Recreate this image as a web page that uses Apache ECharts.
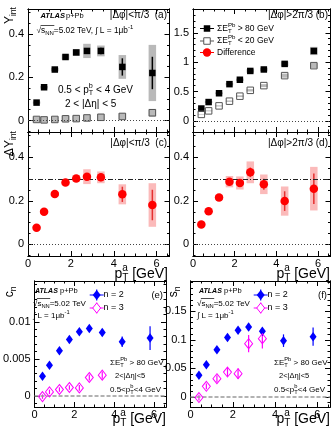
<!DOCTYPE html>
<html>
<head>
<meta charset="utf-8">
<script src="https://cdn.jsdelivr.net/npm/echarts@6/dist/echarts.min.js"></script>
<style>
  html, body { margin: 0; padding: 0; background: #fff; }
  #wrap { position: relative; width: 331px; height: 429px; }
  #chart, #notes { position: absolute; left: 0; top: 0; width: 331px; height: 429px; }
  #notes { pointer-events: none; }
</style>
</head>
<body>
<div id="wrap">
  <div id="chart"></div>
  <div id="notes"></div>
</div>
<script>
// associated pT bin centres [GeV]
const ptA = [0.4, 0.75, 1.25, 1.75, 2.25, 2.75, 3.4, 4.4, 5.8]
const xMajor = [0, 2, 4, 6]
const xMinor = [0.5, 1, 1.5, 2.5, 3, 3.5, 4.5, 5, 5.5, 6.5]

// (a) near side, |dphi| < pi/3
const nearHigh = [0.083, 0.154, 0.236, 0.294, 0.315, 0.322, 0.322, 0.248, 0.220]
const nearHighStat = [0.002, 0.003, 0.004, 0.006, 0.008, 0.012, 0.015, 0.040, 0.075]
const nearHighSys = [0.005, 0.006, 0.008, 0.012, 0.015, 0.033, 0.025, 0.055, 0.130]
const nearLow = [0.005, 0.003, 0.005, 0.008, 0.009, 0.012, 0.015, 0.019, 0.036]
const nearLowSys = [0.014, 0.014, 0.014, 0.015, 0.015, 0.015, 0.016, 0.016, 0.018]

// (b) away side, |dphi| > 2pi/3
const awayHigh = [0.21, 0.32, 0.47, 0.625, 0.70, 0.85, 0.875, 0.97, 1.19]
const awayHighSys = [0.01, 0.015, 0.015, 0.02, 0.02, 0.03, 0.03, 0.04, 0.07]
const awayLow = [0.11, 0.17, 0.255, 0.335, 0.42, 0.52, 0.60, 0.77, 0.94]
const awayLowSys = [0.005, 0.008, 0.01, 0.012, 0.015, 0.02, 0.025, 0.035, 0.045]

// (c) difference, near side
const diffNear = [0.077, 0.150, 0.231, 0.284, 0.303, 0.311, 0.308, 0.230, 0.181]
const diffNearStat = [0.003, 0.004, 0.005, 0.007, 0.009, 0.015, 0.018, 0.035, 0.070]
const diffNearSys = [0.006, 0.008, 0.010, 0.012, 0.015, 0.034, 0.027, 0.046, 0.100]

// (d) difference, away side
const diffAway = [0.092, 0.152, 0.215, 0.288, 0.282, 0.331, 0.276, 0.199, 0.256]
const diffAwayStat = [0.004, 0.005, 0.007, 0.012, 0.014, 0.022, 0.025, 0.045, 0.070]
const diffAwaySys = [0.008, 0.010, 0.012, 0.026, 0.030, 0.050, 0.045, 0.067, 0.100]

// (e) c_n
const c2 = [0.00266, 0.00414, 0.0061, 0.0076, 0.00865, 0.0091, 0.00856, 0.0073, 0.0078]
const c2Err = [0.0002, 0.0002, 0.0003, 0.0003, 0.0003, 0.0003, 0.0004, 0.0007, 0.0016]
const c3 = [-0.0001, 0.00054, 0.00086, 0.00113, 0.00108, 0.00248, 0.0028]
const c3Err = [0.0003, 0.0003, 0.0003, 0.0003, 0.0004, 0.0004, 0.0005]

// (f) s_n
const s2 = [0.038, 0.0566, 0.0828, 0.104, 0.117, 0.1225, 0.115, 0.0986, 0.1056]
const s2Err = [0.003, 0.003, 0.004, 0.004, 0.005, 0.005, 0.006, 0.011, 0.016]
const s3 = [-0.001, 0.0187, 0.032, 0.0437, 0.0408, 0.0933, 0.102]
const s3Err = [0.005, 0.005, 0.006, 0.007, 0.009, 0.015, 0.017]

const FONT = '"Liberation Sans", Arial, sans-serif'
const ctx = document.createElement('canvas').getContext('2d')
const fnt = (size, st) => (st || '') + ' ' + size + 'px ' + FONT
const tw = (s, f) => { ctx.font = f; return ctx.measureText(s).width }

// little markup: _{..} subscript, ^{..} superscript (stacked when adjacent)
function label(x, y, src, size, o) {
  o = o || {}
  const st = o.style || '', col = o.color || '#000', sm = size * 0.72
  const els = []
  const put = (px, py, t, f) => els.push({ type: 'text', x: px, y: py, style: { text: t, font: f, fill: col, textVerticalAlign: 'middle' } })
  const isMark = (k) => (src[k] === '_' || src[k] === '^') && src[k + 1] === '{'
  let cx = 0, i = 0
  while (i < src.length) {
    if (isMark(i)) {
      let w = 0
      while (isMark(i)) {
        const j = src.indexOf('}', i)
        const t = src.slice(i + 2, j)
        put(cx, src[i] === '_' ? size * 0.33 : -size * 0.4, t, fnt(sm, st))
        w = Math.max(w, tw(t, fnt(sm, st)))
        i = j + 1
      }
      cx += w
    } else {
      let j = i
      while (j < src.length && !isMark(j)) j++
      const t = src.slice(i, j)
      put(cx, 0, t, fnt(size, st))
      cx += tw(t, fnt(size, st))
      i = j
    }
  }
  const dx = o.align === 'right' ? -cx : 0
  if (o.rotation) {
    els.forEach(e => { e.x += dx })
    return [{ type: 'group', x: x, y: y, rotation: o.rotation, children: els }]
  }
  els.forEach(e => { e.x += x + dx; e.y += y })
  return els
}

// sqrt(s_NN) bar
function sqrtBar(x, y, size) {
  const x0 = x + tw('\u221A', fnt(size))
  const x1 = x0 + tw('s', fnt(size)) + tw('NN', fnt(size * 0.72)) + 0.5
  return [{ type: 'rect', shape: { x: x0 - 0.5, y: y - size * 0.62 - 0.35, width: x1 - x0 + 0.5, height: 0.7 }, style: { fill: '#000' } }]
}

const grids = [
  { left: 28, top: 9, width: 141.5, height: 123 },
  { left: 193, top: 9, width: 137.5, height: 123 },
  { left: 28, top: 132, width: 141.5, height: 124 },
  { left: 193, top: 132, width: 137.5, height: 124 },
  { left: 26.5, top: 281, width: 139.5, height: 126 },
  { left: 190.5, top: 281, width: 139.5, height: 126 }
]

const fmt = v => String(Math.round(v * 10000) / 10000)
function ax(g, pos, min, max, vals, len, labels, dim) {
  return {
    type: 'value', gridIndex: g, position: pos, min: min, max: max,
    axisLine: { show: true, onZero: false, lineStyle: { color: '#000', width: 1 } },
    axisTick: { show: true, inside: true, length: len, customValues: vals, lineStyle: { color: '#000', width: 1 } },
    axisLabel: labels
      ? { show: true, customValues: vals, formatter: fmt, showMinLabel: true, showMaxLabel: true, hideOverlap: false, color: '#000', fontSize: 11, fontFamily: FONT, margin: dim === 'x' ? 2 : 4 }
      : { show: false },
    splitLine: { show: false }
  }
}
function range(a, b, step, skip) {
  const out = []
  for (let v = a; v <= b + 1e-9; v += step) {
    const r = Math.round(v * 1e6) / 1e6
    if (!skip.some(s => Math.abs(s - r) < 1e-9)) out.push(r)
  }
  return out
}

// 4 x axes and 4 y axes per grid; the first of each carries the data and labels
const xAxes = [], yAxes = []
function frame(g, yMin, yMax, yMaj, yStep) {
  const yMin2 = range(Math.ceil(yMin / yStep) * yStep, yMax, yStep, yMaj)
  xAxes.push(ax(g, 'bottom', 0, 6.6, xMajor, 5, g >= 2, 'x'))
  xAxes.push(ax(g, 'bottom', 0, 6.6, xMinor, 2.5, false, 'x'))
  xAxes.push(ax(g, 'top', 0, 6.6, xMajor, 5, false, 'x'))
  xAxes.push(ax(g, 'top', 0, 6.6, xMinor, 2.5, false, 'x'))
  yAxes.push(ax(g, 'left', yMin, yMax, yMaj, 5, true, 'y'))
  yAxes.push(ax(g, 'left', yMin, yMax, yMin2, 2.5, false, 'y'))
  yAxes.push(ax(g, 'right', yMin, yMax, yMaj, 5, false, 'y'))
  yAxes.push(ax(g, 'right', yMin, yMax, yMin2, 2.5, false, 'y'))
}
frame(0, -0.053, 0.516, [0, 0.2, 0.4], 0.05)
frame(1, -0.19, 1.905, [0, 0.5, 1, 1.5], 0.1)
frame(2, -0.053, 0.516, [0, 0.2, 0.4], 0.05)
frame(3, -0.053, 0.516, [0, 0.2, 0.4], 0.05)
frame(4, -0.0015, 0.0155, [0, 0.005, 0.01], 0.001)
frame(5, -0.0175, 0.203, [0, 0.05, 0.1, 0.15], 0.01)

const zip = (ys, es) => ys.map((y, i) => es ? [ptA[i], y, es[i]] : [ptA[i], y])

function points(g, ys, sym, size, fill, border, marks) {
  const s = {
    type: 'scatter', xAxisIndex: g * 4, yAxisIndex: g * 4, data: zip(ys), z: 5, silent: true,
    symbol: sym, symbolSize: size,
    itemStyle: { color: fill, borderColor: border || fill, borderWidth: border ? 1 : 0, opacity: 1 }
  }
  if (marks) {
    s.markLine = { silent: true, symbol: 'none', label: { show: false }, animation: false, data: marks }
  }
  return s
}
// vertical band centred on each point: stat bars (thin) and sys boxes (wide)
function band(g, ys, es, color, w, z) {
  return {
    type: 'custom', xAxisIndex: g * 4, yAxisIndex: g * 4, data: zip(ys, es), z: z, silent: true,
    renderItem: (params, api) => {
      const a = api.coord([api.value(0), api.value(1) + api.value(2)])
      const b = api.coord([api.value(0), api.value(1) - api.value(2)])
      return { type: 'rect', shape: { x: a[0] - w / 2, y: a[1], width: w, height: b[1] - a[1] }, style: { fill: color } }
    }
  }
}
const boxes = (g, ys, es, color, w) => band(g, ys, es, color, w, 3)
const bars = (g, ys, es, color, w) => band(g, ys, es, color, w, 4)

const dotted = { yAxis: 0, lineStyle: { color: '#444', width: 1, type: [1, 2] } }
const dashDot = { yAxis: 0.3, lineStyle: { color: '#222', width: 1, type: [5, 2, 1, 2] } }
const dashed = { yAxis: 0, lineStyle: { color: '#999', width: 1.5, type: [4, 2] } }

const GREY = '#b9b9b9', PINK = '#fbbaba', RED = '#ff0000', BLUE = '#0000ff', MAG = '#ff00ff'

const series = [
  // (a)
  boxes(0, nearHigh, nearHighSys, GREY, 7.5),
  boxes(0, nearLow, nearLowSys, GREY, 7.5),
  bars(0, nearHigh, nearHighStat, '#000', 1.5),
  points(0, nearHigh, 'rect', 6.5, '#000', null, [dotted]),
  points(0, nearLow, 'rect', 6.5, 'rgba(0,0,0,0)', '#555'),
  // (b)
  boxes(1, awayHigh, awayHighSys, GREY, 7.5),
  boxes(1, awayLow, awayLowSys, GREY, 7.5),
  points(1, awayHigh, 'rect', 6.5, '#000', null, [dotted]),
  points(1, awayLow, 'rect', 6.5, 'rgba(0,0,0,0)', '#555'),
  // (c)
  boxes(2, diffNear, diffNearSys, PINK, 7.5),
  bars(2, diffNear, diffNearStat, '#e53030', 1.5),
  points(2, diffNear, 'circle', 8.5, RED, null, [dotted, dashDot]),
  // (d)
  boxes(3, diffAway, diffAwaySys, PINK, 7.5),
  bars(3, diffAway, diffAwayStat, '#e53030', 1.5),
  points(3, diffAway, 'circle', 8.5, RED, null, [dotted, dashDot]),
  // (e)
  bars(4, c2, c2Err, BLUE, 1.2),
  bars(4, c3, c3Err, MAG, 1.2),
  points(4, c2, 'diamond', [7, 9.5], BLUE, null, [dashed]),
  points(4, c3, 'diamond', [8, 10], 'rgba(255,255,255,0)', MAG),
  // (f)
  bars(5, s2, s2Err, BLUE, 1.2),
  bars(5, s3, s3Err, MAG, 1.2),
  points(5, s2, 'diamond', [7, 9.5], BLUE, null, [dashed]),
  points(5, s3, 'diamond', [8, 10], 'rgba(255,255,255,0)', MAG)
]

// legend rows drawn as graphics
function legRow(x, y, kind, color) {
  const out = [{ type: 'rect', shape: { x: x - 7, y: y - 0.5, width: 14, height: 1 }, style: { fill: color } }]
  if (kind === 'sq') out.push({ type: 'rect', shape: { x: x - 3.25, y: y - 3.25, width: 6.5, height: 6.5 }, style: { fill: color } })
  if (kind === 'osq') out.push({ type: 'rect', shape: { x: x - 3.25, y: y - 3.25, width: 6.5, height: 6.5 }, style: { fill: '#fff', stroke: color, lineWidth: 1 } })
  if (kind === 'dot') out.push({ type: 'circle', shape: { cx: x, cy: y, r: 4.2 }, style: { fill: color } })
  if (kind === 'dia' || kind === 'odia') {
    out.push({ type: 'rect', shape: { x: x - 0.6, y: y - 5.5, width: 1.2, height: 11 }, style: { fill: color } })
    out.push({ type: 'polygon', shape: { points: [[x, y - 5], [x + 4, y], [x, y + 5], [x - 4, y]] }, style: kind === 'dia' ? { fill: color } : { fill: '#fff', stroke: color, lineWidth: 1 } })
  }
  return out
}

const g = []
const add = arr => arr.forEach(e => g.push(e))
// panel (a)
add(label(40.5, 16, 'ATLAS', 7.5, { style: 'italic bold' }))
add(label(66, 16, 'p+Pb', 7.5))
add(label(36.5, 30.5, '\u221As_{NN}=5.02 TeV, \u222B L = 1\u03BCb^{-1}', 8.3))
add(sqrtBar(36.5, 30.5, 8.3))
add(label(167, 15, '|\u0394\u03C6|<\u03C0/3  (a)', 10, { align: 'right' }))
add(label(58, 90, '0.5 < p_{T}^{b} < 4 GeV', 10))
add(label(65, 104, '2 < |\u0394\u03B7| < 5', 10))
add(label(10, 7, 'Y_{int}', 12, { align: 'right', rotation: Math.PI / 2 }))
// panel (b)
add(label(328, 15, '|\u0394\u03C6|>2\u03C0/3 (b)', 10, { align: 'right' }))
add(legRow(207, 28.5, 'sq', '#000'))
add(legRow(207, 41, 'osq', '#555'))
add(legRow(207, 52.5, 'dot', RED))
add(label(217, 28.5, '\u03A3E_{T}^{Pb} > 80 GeV', 8.5))
add(label(217, 41, '\u03A3E_{T}^{Pb} < 20 GeV', 8.5))
add(label(217, 52.5, 'Difference', 8.5))
// panels (c), (d)
add(label(167, 143, '|\u0394\u03C6|<\u03C0/3  (c)', 10, { align: 'right' }))
add(label(328, 143, '|\u0394\u03C6|>2\u03C0/3 (d)', 10, { align: 'right' }))
add(label(10, 131, '\u0394Y_{int}', 12, { align: 'right', rotation: Math.PI / 2 }))
add(label(168, 274, 'p_{T}^{a} [GeV]', 14, { align: 'right' }))
add(label(330, 274, 'p_{T}^{a} [GeV]', 14, { align: 'right' }))
// panels (e), (f)
;[[0, 'c_{n}', '(e)'], [164, 's_{n}', '(f)']].forEach(([dx, title, tag]) => {
  add(label(10 + dx, 286.5, title, 12, { align: 'right', rotation: Math.PI / 2 }))
  add(label(35 + dx, 291, 'ATLAS', 7, { style: 'italic bold' }))
  add(label(60 + dx, 291, 'p+Pb', 7.5))
  add(label(33 + dx, 303.5, '\u221As_{NN}=5.02 TeV', 8))
  add(sqrtBar(33 + dx, 303.5, 8))
  add(label(33 + dx, 316, '\u222B L = 1\u03BCb^{-1}', 8))
  add(legRow(96.7 + dx, 295, 'dia', BLUE))
  add(legRow(96.7 + dx, 308, 'odia', MAG))
  add(label(103.5 + dx, 295, 'n = 2', 9))
  add(label(103.5 + dx, 308, 'n = 3', 9))
  add(label(163 + dx, 295, tag, 9.5, { align: 'right' }))
  add(label(110 + dx, 363, '\u03A3E_{T}^{Pb} > 80 GeV', 8))
  add(label(115 + dx, 376, '2<|\u0394\u03B7|<5', 7.5))
  add(label(110 + dx, 390, '0.5<p_{T}^{b}<4 GeV', 8))
  add(label(166 + dx, 419, 'p_{T}^{a} [GeV]', 14, { align: 'right' }))
})

// axes and data
const chart = echarts.init(document.getElementById('chart'))
chart.setOption({
  animation: false,
  backgroundColor: '#fff',
  grid: grids,
  xAxis: xAxes,
  yAxis: yAxes,
  series: series
})

// annotations on a separate transparent layer
const notes = echarts.init(document.getElementById('notes'))
notes.setOption({
  animation: false,
  graphic: { elements: g.map(e => Object.assign({ silent: true }, e)) }
})
</script>
</body>
</html>
